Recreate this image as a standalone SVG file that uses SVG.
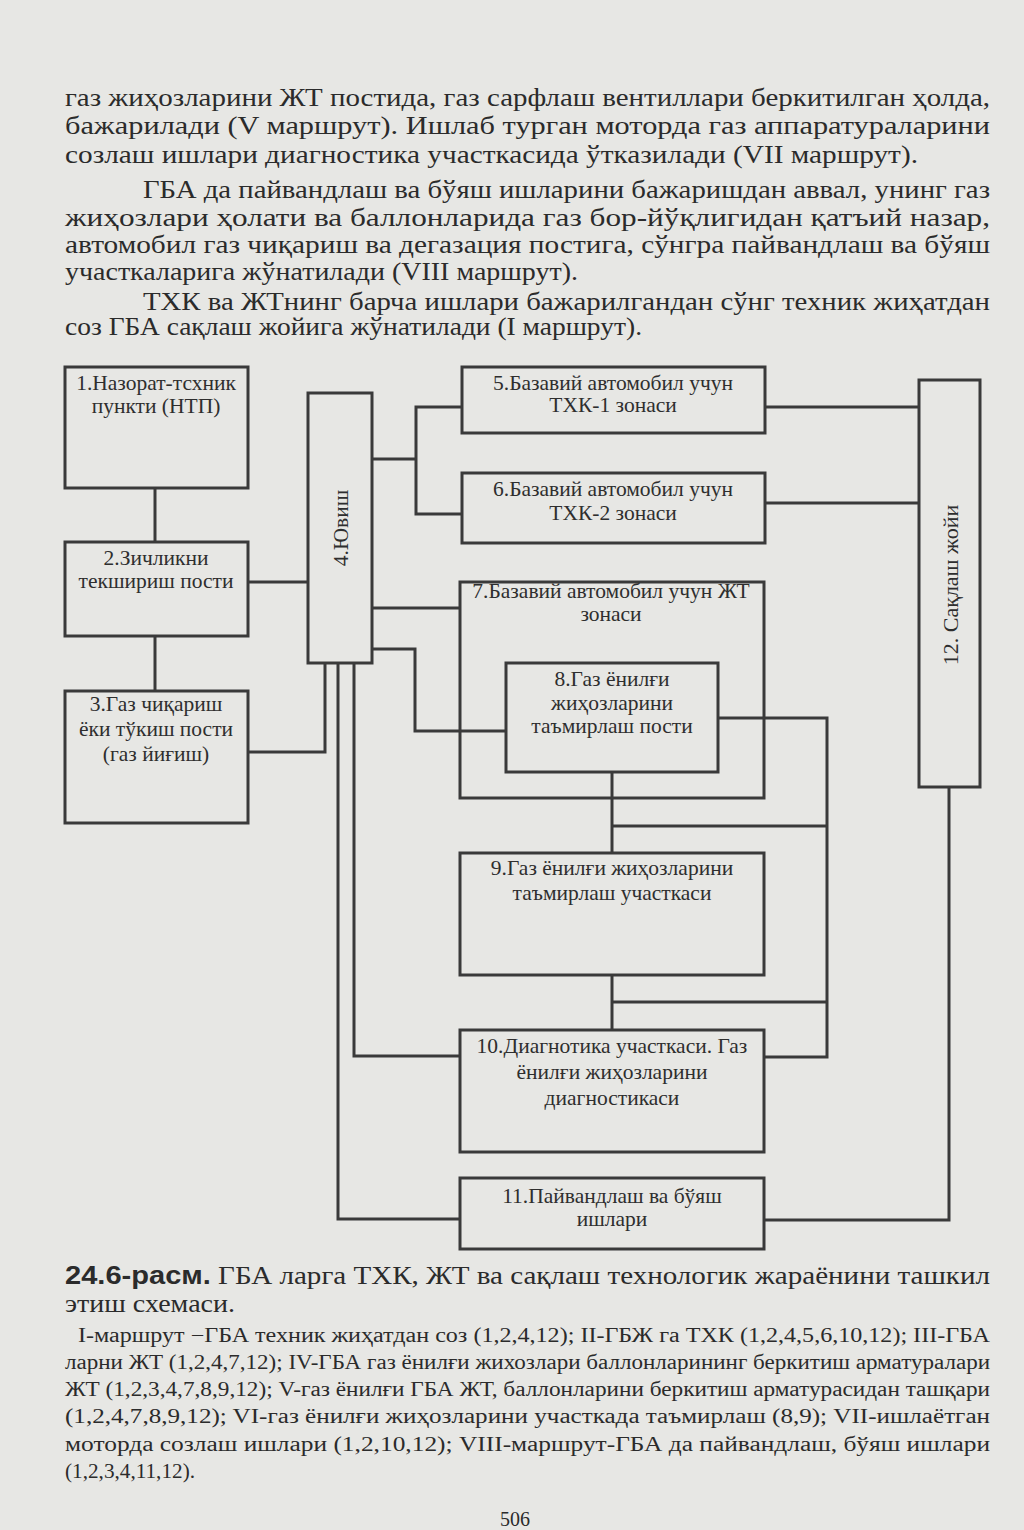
<svg xmlns="http://www.w3.org/2000/svg" width="1024" height="1530" viewBox="0 0 1024 1530">
<style>
.body{font-family:"Liberation Serif","Times New Roman",serif;font-size:25px;fill:#2b2b2b}
.small{font-family:"Liberation Serif","Times New Roman",serif;font-size:20px;fill:#2b2b2b}
.bx{fill:none;stroke:#3a3a3a;stroke-width:3}
.bt{font-family:"Liberation Serif","Times New Roman",serif;font-size:21.5px;fill:#2e2e2e;text-anchor:middle}
.cn{fill:none;stroke:#3a3a3a;stroke-width:3;stroke-linejoin:miter}
.bold{font-family:"Liberation Sans","Arial",sans-serif;font-weight:bold}
</style>
<rect x="0" y="0" width="1024" height="1530" fill="#e7e7e4"/>

<g id="text-top">
<text class="body" x="65" y="106" textLength="925" lengthAdjust="spacingAndGlyphs">газ жиҳозларини ЖТ постида, газ сарфлаш вентиллари беркитилган ҳолда,</text>
<text class="body" x="65" y="134" textLength="925" lengthAdjust="spacingAndGlyphs">бажарилади (V маршрут). Ишлаб турган моторда газ аппаратураларини</text>
<text class="body" x="65" y="163" textLength="853" lengthAdjust="spacingAndGlyphs">созлаш ишлари диагностика участкасида ўтказилади (VII маршрут).</text>
<text class="body" x="143" y="198" textLength="847" lengthAdjust="spacingAndGlyphs">ГБА да пайвандлаш ва бўяш ишларини бажаришдан аввал, унинг газ</text>
<text class="body" x="65" y="226" textLength="925" lengthAdjust="spacingAndGlyphs">жиҳозлари ҳолати ва баллонларида газ бор-йўқлигидан қатъий назар,</text>
<text class="body" x="65" y="253" textLength="925" lengthAdjust="spacingAndGlyphs">автомобил газ чиқариш ва дегазация постига, сўнгра пайвандлаш ва бўяш</text>
<text class="body" x="65" y="280" textLength="513" lengthAdjust="spacingAndGlyphs">участкаларига жўнатилади (VIII маршрут).</text>
<text class="body" x="143" y="310" textLength="847" lengthAdjust="spacingAndGlyphs">ТХК ва ЖТнинг барча ишлари бажарилгандан сўнг техник жиҳатдан</text>
<text class="body" x="65" y="335" textLength="577" lengthAdjust="spacingAndGlyphs">соз ГБА сақлаш жойига жўнатилади (I маршрут).</text>
</g>

<g id="connectors">
<path class="cn" d="M155 488V542"/>
<path class="cn" d="M155 636V691"/>
<path class="cn" d="M248 582H308"/>
<path class="cn" d="M248 752H325V663"/>
<path class="cn" d="M372 459H416"/>
<path class="cn" d="M462 407H416V514H462"/>
<path class="cn" d="M372 608H460"/>
<path class="cn" d="M372 649H415V731H506"/>
<path class="cn" d="M354 663V1056H460"/>
<path class="cn" d="M338 663V1219H460"/>
<path class="cn" d="M765 407H919"/>
<path class="cn" d="M765 503H919"/>
<path class="cn" d="M612 772V853"/>
<path class="cn" d="M612 826H827"/>
<path class="cn" d="M718 718H827V1057H764"/>
<path class="cn" d="M612 975V1030"/>
<path class="cn" d="M612 1002H827"/>
<path class="cn" d="M949 787V1220H764"/>
</g>

<g id="n1">
<rect class="bx" x="65" y="367" width="183" height="121"/>
<text class="bt" x="156" y="390">1.Назорат-тсхник</text>
<text class="bt" x="156" y="413">пункти (НТП)</text>
</g>
<g id="n2">
<rect class="bx" x="65" y="542" width="183" height="94"/>
<text class="bt" x="156" y="565">2.Зичликни</text>
<text class="bt" x="156" y="588">текшириш пости</text>
</g>
<g id="n3">
<rect class="bx" x="65" y="691" width="183" height="132"/>
<text class="bt" x="156" y="711">3.Газ чиқариш</text>
<text class="bt" x="156" y="736">ёки тўкиш пости</text>
<text class="bt" x="156" y="761">(газ йиғиш)</text>
</g>
<g id="n4">
<rect class="bx" x="308" y="393" width="64" height="270"/>
<text class="bt" transform="translate(348 528) rotate(-90)">4.Ювиш</text>
</g>
<g id="n5">
<rect class="bx" x="462" y="367" width="303" height="66"/>
<text class="bt" x="613" y="390">5.Базавий автомобил учун</text>
<text class="bt" x="613" y="412">ТХК-1 зонаси</text>
</g>
<g id="n6">
<rect class="bx" x="462" y="473" width="303" height="70"/>
<text class="bt" x="613" y="496">6.Базавий автомобил учун</text>
<text class="bt" x="613" y="520">ТХК-2 зонаси</text>
</g>
<g id="n7">
<rect class="bx" x="460" y="582" width="304" height="216"/>
<text class="bt" x="611" y="598">7.Базавий автомобил учун ЖТ</text>
<text class="bt" x="611" y="621">зонаси</text>
</g>
<g id="n8">
<rect class="bx" x="506" y="663" width="212" height="109"/>
<text class="bt" x="612" y="686">8.Газ ёнилғи</text>
<text class="bt" x="612" y="710">жиҳозларини</text>
<text class="bt" x="612" y="733">таъмирлаш пости</text>
</g>
<g id="n9">
<rect class="bx" x="460" y="853" width="304" height="122"/>
<text class="bt" x="612" y="875">9.Газ ёнилғи жиҳозларини</text>
<text class="bt" x="612" y="900">таъмирлаш участкаси</text>
</g>
<g id="n10">
<rect class="bx" x="460" y="1030" width="304" height="122"/>
<text class="bt" x="612" y="1053">10.Диагнотика участкаси. Газ</text>
<text class="bt" x="612" y="1079">ёнилғи жиҳозларини</text>
<text class="bt" x="612" y="1105">диагностикаси</text>
</g>
<g id="n11">
<rect class="bx" x="460" y="1178" width="304" height="71"/>
<text class="bt" x="612" y="1203">11.Пайвандлаш ва бўяш</text>
<text class="bt" x="612" y="1226">ишлари</text>
</g>
<g id="n12">
<rect class="bx" x="919" y="380" width="61" height="407"/>
<text class="bt" style="font-size:22px" transform="translate(958 585) rotate(-90)">12. Сақлаш жойи</text>
</g>

<g id="caption">
<text class="body" x="65" y="1284" textLength="925" lengthAdjust="spacingAndGlyphs"><tspan class="bold">24.6-расм.</tspan> ГБА ларга ТХК, ЖТ ва сақлаш технологик жараёнини ташкил</text>
<text class="body" x="65" y="1312" textLength="170" lengthAdjust="spacingAndGlyphs">этиш схемаси.</text>
<text class="small" x="78" y="1342" textLength="912" lengthAdjust="spacingAndGlyphs">I-маршрут −ГБА техник жиҳатдан соз (1,2,4,12); II-ГБЖ га ТХК (1,2,4,5,6,10,12); III-ГБА</text>
<text class="small" x="65" y="1369" textLength="925" lengthAdjust="spacingAndGlyphs">ларни ЖТ (1,2,4,7,12); IV-ГБА газ ёнилғи жихозлари баллонларининг беркитиш арматуралари</text>
<text class="small" x="65" y="1396" textLength="925" lengthAdjust="spacingAndGlyphs">ЖТ (1,2,3,4,7,8,9,12); V-газ ёнилғи ГБА ЖТ, баллонларини беркитиш арматурасидан ташқари</text>
<text class="small" x="65" y="1423" textLength="925" lengthAdjust="spacingAndGlyphs">(1,2,4,7,8,9,12); VI-газ ёнилғи жиҳозларини участкада таъмирлаш (8,9); VII-ишлаётган</text>
<text class="small" x="65" y="1451" textLength="925" lengthAdjust="spacingAndGlyphs">моторда созлаш ишлари (1,2,10,12); VIII-маршрут-ГБА да пайвандлаш, бўяш ишлари</text>
<text class="small" x="65" y="1478" textLength="130" lengthAdjust="spacingAndGlyphs">(1,2,3,4,11,12).</text>
<text class="small" x="515" y="1526" text-anchor="middle" style="font-size:20px">506</text>
</g>
</svg>
